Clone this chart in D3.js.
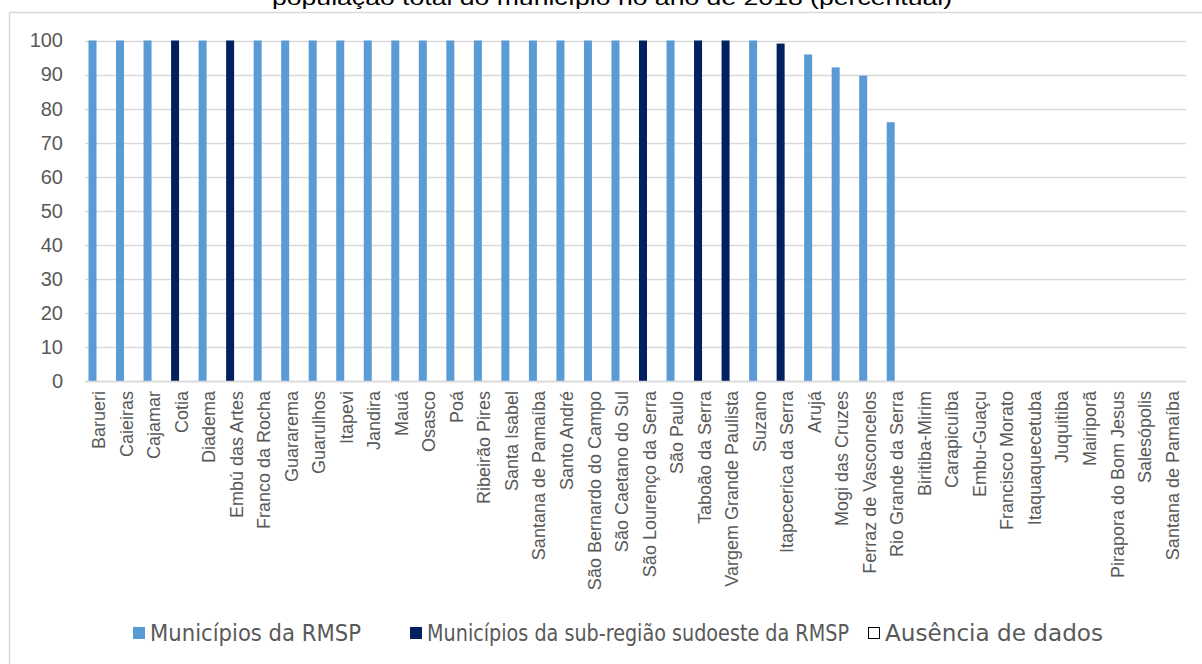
<!DOCTYPE html>
<html>
<head>
<meta charset="utf-8">
<script src="https://cdn.jsdelivr.net/npm/d3@7"></script>
<style>
  body { margin: 0; background: #fff; }
  svg { display: block; }
</style>
</head>
<body>
<svg id="chart" width="1202" height="664"></svg>
<script>
// Municípios da Região Metropolitana de São Paulo, na ordem do eixo
const municipios = [
  "Barueri", "Caieiras", "Cajamar", "Cotia", "Diadema", "Embú das Artes",
  "Franco da Rocha", "Guararema", "Guarulhos", "Itapevi", "Jandira", "Mauá",
  "Osasco", "Poá", "Ribeirão Pires", "Santa Isabel", "Santana de Pamaíba",
  "Santo André", "São Bernardo do Campo", "São Caetano do Sul",
  "São Lourenço da Serra", "São Paulo", "Taboão da Serra",
  "Vargem Grande Paulista", "Suzano", "Itapecerica da Serra", "Arujá",
  "Mogi das Cruzes", "Ferraz de Vasconcelos", "Rio Grande da Serra",
  "Biritiba-Mirim", "Carapicuíba", "Embu-Guaçu", "Francisco Morato",
  "Itaquaquecetuba", "Juquitiba", "Mairiporã", "Pirapora do Bom Jesus",
  "Salesópolis", "Santana de Pamaíba"
];

// Série 1: municípios da RMSP (percentual)
const valoresRMSP = [
  100, 100, 100, null, 100, null, 100, 100, 100, 100, 100, 100,
  100, 100, 100, 100, 100, 100, 100, 100, null, 100, null, null,
  100, null, 95.9, 92.1, 89.7, 76.0,
  null, null, null, null, null, null, null, null, null, null
];

// Série 2: municípios da sub-região sudoeste da RMSP (percentual)
const valoresSudoeste = [
  null, null, null, 100, null, 100, null, null, null, null, null, null,
  null, null, null, null, null, null, null, null, 100, null, 100, 100,
  null, 99.1, null, null, null, null,
  null, null, null, null, null, null, null, null, null, null
];

// Série 3: ausência de dados (sem valores)
const valoresAusencia = municipios.map(() => null);

const ticksY = [0, 10, 20, 30, 40, 50, 60, 70, 80, 90, 100];

const nomesSeries = [
  "Municípios da RMSP",
  "Municípios da sub-região sudoeste da RMSP",
  "Ausência de dados"
];

const titulo = "população total do município no ano de 2018 (percentual)";

// ---------------------------------------------------------------
const corRMSP = "#5B9BD5";
const corSudoeste = "#002060";
const corTexto = "#595959";
const corGrade = "#D9D9D9";

const svg = d3.select("#chart");
const W = 1202, H = 664;

svg.append("rect")
  .attr("x", 0).attr("y", 0).attr("width", W).attr("height", H)
  .attr("fill", "#fff");

// moldura da área do gráfico
svg.append("rect")
  .attr("x", 9.5).attr("y", 12.5)
  .attr("width", W + 20).attr("height", H + 20)
  .attr("fill", "none")
  .attr("stroke", corGrade)
  .attr("stroke-width", 1.5);

// título
svg.append("text")
  .attr("x", 612).attr("y", 5)
  .attr("text-anchor", "middle")
  .attr("font-family", "'Liberation Sans', Arial, sans-serif")
  .attr("font-size", 20)
  .attr("fill", "#000")
  .attr("textLength", 680)
  .attr("lengthAdjust", "spacingAndGlyphs")
  .text(titulo);

const plot = { left: 85, right: 1186, top: 40.5, bottom: 381 };

// categorias indexadas (há nomes repetidos no eixo)
const indices = municipios.map((_, i) => i);

const x = d3.scaleBand()
  .domain(indices)
  .range([plot.left, plot.right])
  .paddingInner(0).paddingOuter(0);

const y = d3.scaleLinear()
  .domain([0, 100])
  .range([plot.bottom, plot.top]);

// grade horizontal
svg.append("g")
  .selectAll("line")
  .data(ticksY)
  .join("line")
  .attr("x1", plot.left).attr("x2", plot.right)
  .attr("y1", d => Math.round(y(d)) + 0.5)
  .attr("y2", d => Math.round(y(d)) + 0.5)
  .attr("stroke", corGrade)
  .attr("stroke-width", 1.3);

// eixo Y (rótulos)
const eixoY = svg.append("g")
  .attr("transform", `translate(${plot.left},0)`)
  .call(d3.axisLeft(y).tickValues(ticksY).tickSize(0).tickPadding(22));
eixoY.select(".domain").remove();
eixoY.selectAll("text")
  .attr("font-family", "'Liberation Sans', Arial, sans-serif")
  .attr("font-size", 20)
  .attr("fill", corTexto);

// barras
const larguraBarra = 8;
const deslocamento = 7.5; // centro da barra a partir do início da categoria

function desenhaSerie(valores, cor) {
  const dados = indices
    .map(i => ({ i, v: valores[i] }))
    .filter(d => d.v != null);
  svg.append("g")
    .selectAll("rect")
    .data(dados)
    .join("rect")
    .attr("x", d => x(d.i) + deslocamento - larguraBarra / 2)
    .attr("y", d => y(d.v))
    .attr("width", larguraBarra)
    .attr("height", d => y(0) - y(d.v))
    .attr("fill", cor);
}
desenhaSerie(valoresRMSP, corRMSP);
desenhaSerie(valoresSudoeste, corSudoeste);
desenhaSerie(valoresAusencia, "#fff");

// eixo X
const eixoX = svg.append("g")
  .attr("transform", `translate(0,${plot.bottom})`)
  .call(d3.axisBottom(x).tickSize(0).tickPadding(0)
    .tickFormat(i => municipios[i]));
eixoX.select(".domain")
  .attr("d", `M${plot.left},0.5H${plot.right}`)
  .attr("stroke", corGrade)
  .attr("stroke-width", 1.5);
eixoX.selectAll(".tick text")
  .attr("font-family", "'Liberation Sans', Arial, sans-serif")
  .attr("font-size", 18)
  .attr("fill", corTexto)
  .attr("text-anchor", "end")
  .attr("transform", "rotate(-90)")
  .attr("x", -10)
  .attr("y", 0)
  .attr("dy", "0.35em");

// legenda
const legenda = [
  { nome: nomesSeries[0], cor: corRMSP, borda: null, x: 133, w: 211 },
  { nome: nomesSeries[1], cor: corSudoeste, borda: null, x: 410, w: 422 },
  { nome: nomesSeries[2], cor: "#fff", borda: "#000", x: 868, w: 218 }
];
const gLeg = svg.append("g");
const itens = gLeg.selectAll("g").data(legenda).join("g")
  .attr("transform", d => `translate(${d.x},627)`);
itens.append("rect")
  .attr("x", d => d.borda ? 0.5 : 0)
  .attr("y", d => d.borda ? 0.5 : 0)
  .attr("width", d => d.borda ? 11 : 12)
  .attr("height", d => d.borda ? 11 : 12)
  .attr("fill", d => d.cor)
  .attr("stroke", d => d.borda || "none")
  .attr("stroke-width", 1);
itens.append("text")
  .attr("x", 17)
  .attr("y", 14)
  .attr("font-family", "'Liberation Sans Narrow', 'Arial Narrow', 'DejaVu Sans Condensed', sans-serif")
  .attr("font-size", 23)
  .attr("fill", corTexto)
  .attr("textLength", d => d.w)
  .attr("lengthAdjust", "spacingAndGlyphs")
  .text(d => d.nome);
</script>
</body>
</html>
